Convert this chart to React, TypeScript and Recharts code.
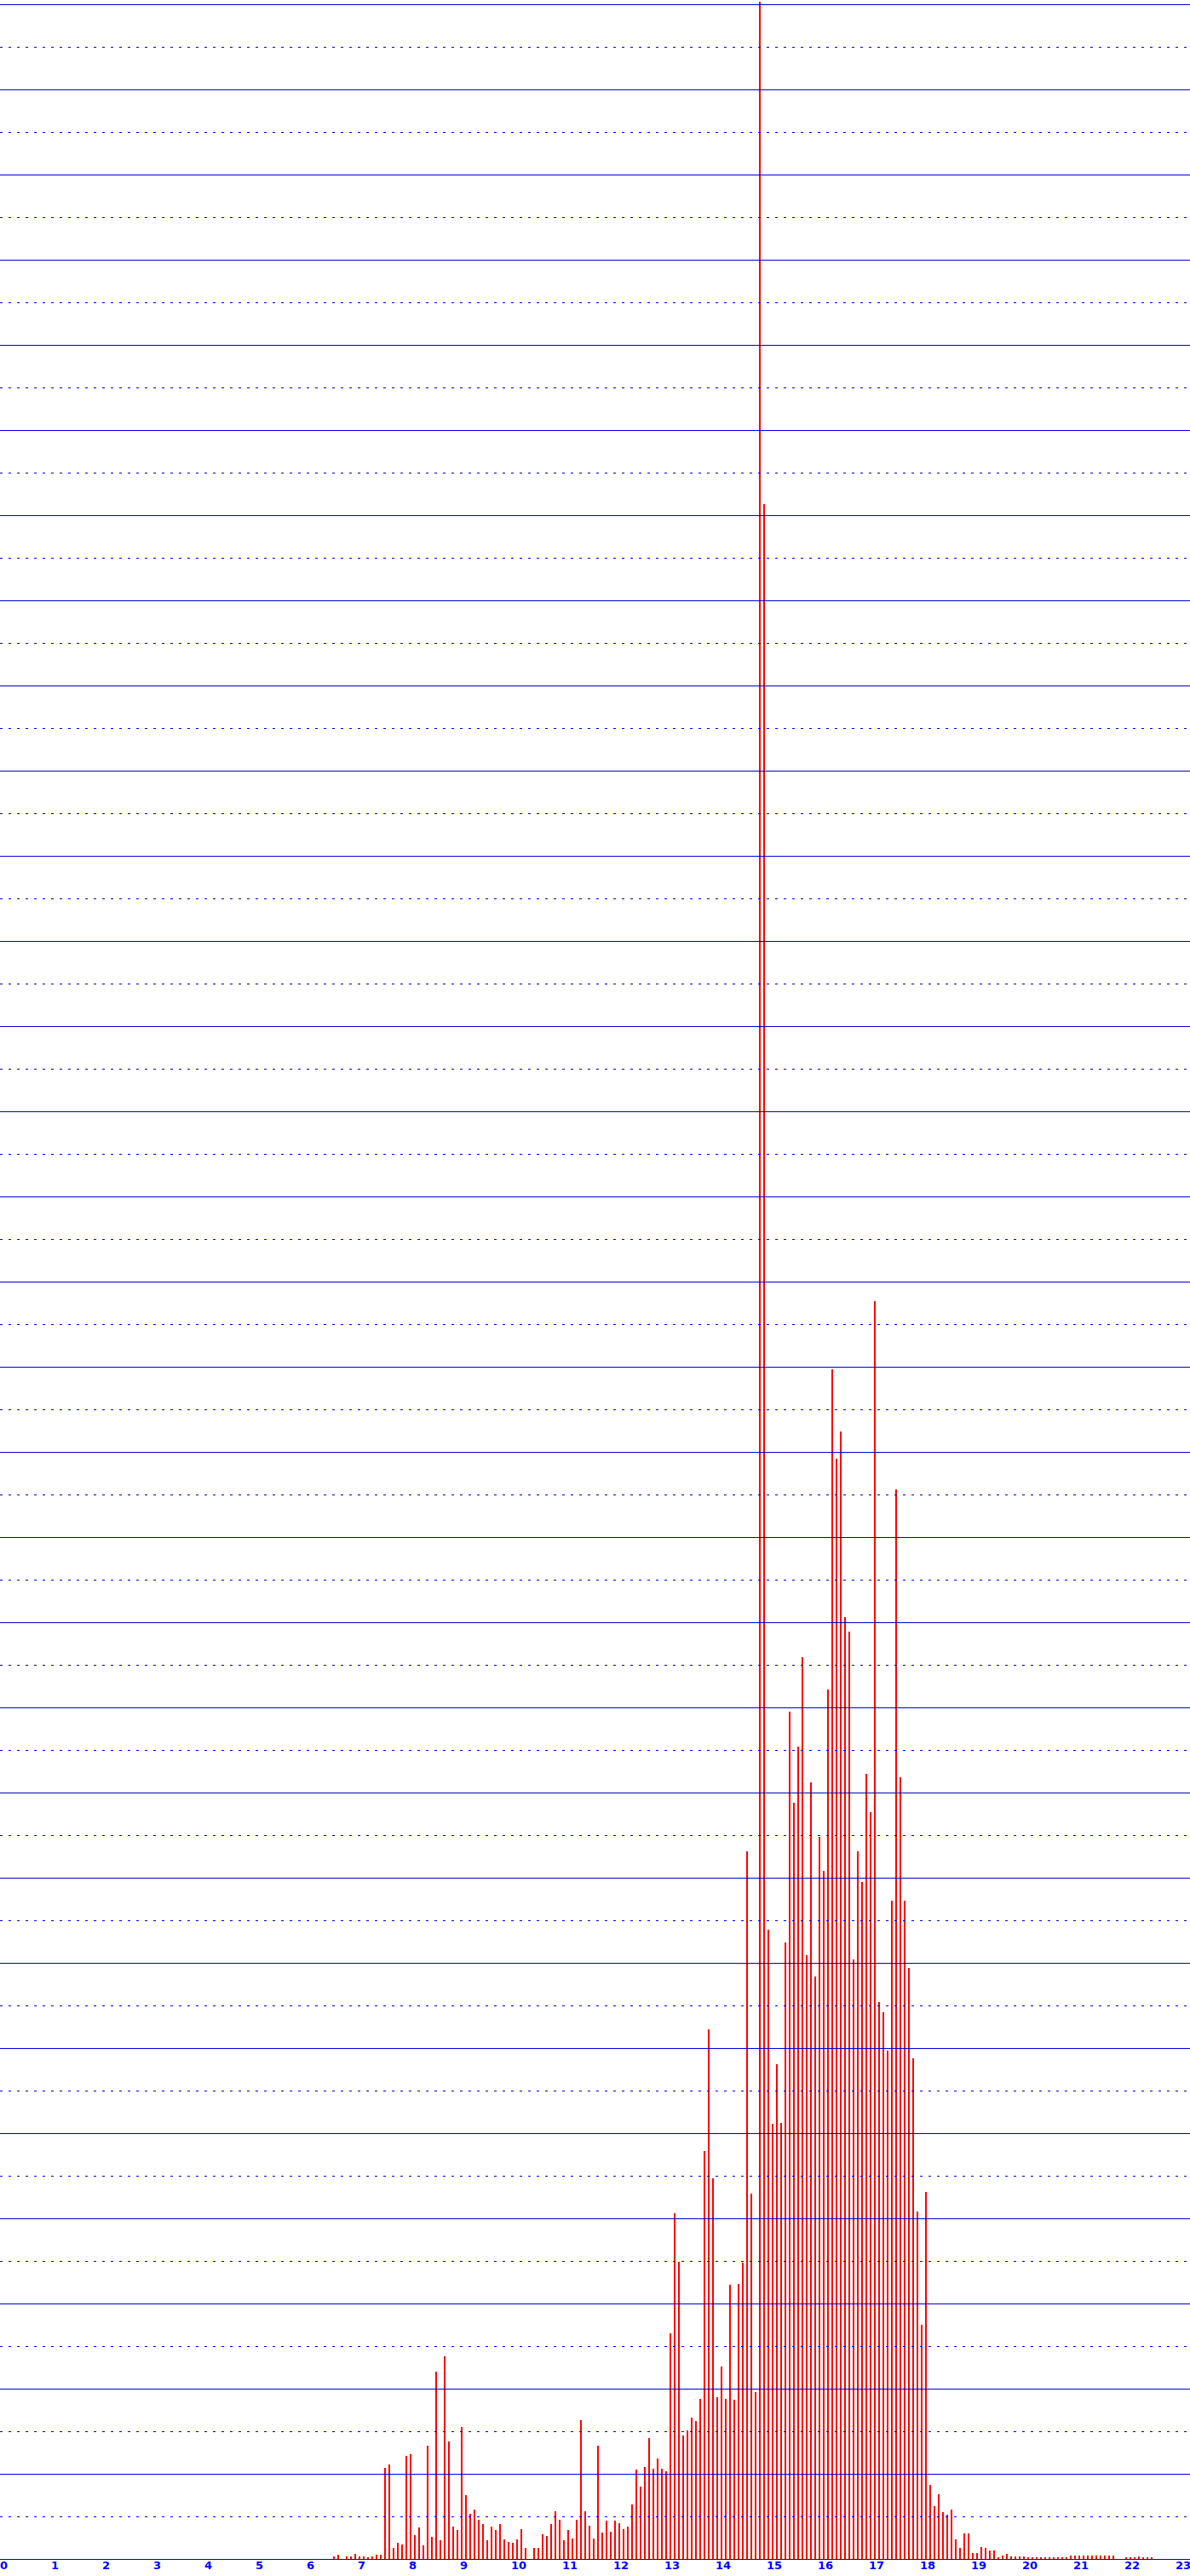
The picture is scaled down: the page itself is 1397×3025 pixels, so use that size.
import React from 'react';
import { BarChart, Bar, XAxis, YAxis, ReferenceLine } from 'recharts';

// hour labels on the x axis (one tick every 12 five-minute slots)
const hourLabels: string[] = [
  '0', '1', '2', '3', '4', '5', '6', '7', '8', '9', '10', '11',
  '12', '13', '14', '15', '16', '17', '18', '19', '20', '21', '22', '23',
];

// counts per 5-minute slot, one row per hour (12 slots per row)
const counts5min: number[] = [
  // 0h
  0, 0, 0, 0, 0, 0, 0, 0, 0, 0, 0, 0,
  // 1h
  0, 0, 0, 0, 0, 0, 0, 0, 0, 0, 0, 0,
  // 2h
  0, 0, 0, 0, 0, 0, 0, 0, 0, 0, 0, 0,
  // 3h
  0, 0, 0, 0, 0, 0, 0, 0, 0, 0, 0, 0,
  // 4h
  0, 0, 0, 0, 0, 0, 0, 0, 0, 0, 0, 0,
  // 5h
  0, 0, 0, 0, 0, 0, 0, 0, 0, 0, 0, 0,
  // 6h
  0, 0, 0, 0, 0, 0, 3, 5, 0, 3, 3, 6,
  // 7h
  3, 3, 2, 3, 5, 5, 107, 111, 13, 19, 17, 121,
  // 8h
  123, 28, 37, 16, 133, 26, 220, 22, 238, 138, 38, 34,
  // 9h
  155, 75, 53, 58, 46, 41, 22, 38, 34, 41, 23, 20,
  // 10h
  19, 23, 35, 13, 0, 13, 13, 29, 27, 41, 56, 46,
  // 11h
  22, 34, 24, 46, 163, 56, 39, 24, 133, 31, 45, 32,
  // 12h
  45, 42, 35, 38, 64, 105, 85, 108, 142, 106, 118, 106,
  // 13h
  103, 265, 406, 349, 145, 151, 166, 162, 188, 479, 622, 447,
  // 14h
  190, 226, 188, 322, 187, 323, 348, 831, 429, 196, 3003, 2413,
  // 15h
  739, 511, 581, 512, 724, 995, 888, 954, 1059, 709, 912, 684,
  // 16h
  848, 808, 1021, 1397, 1292, 1324, 1106, 1089, 704, 831, 795, 922,
  // 17h
  877, 1477, 654, 642, 597, 773, 1256, 918, 773, 694, 588, 408,
  // 18h
  275, 431, 87, 62, 76, 55, 52, 58, 23, 13, 30, 30,
  // 19h
  7, 7, 14, 13, 10, 10, 2, 4, 6, 3, 3, 3,
  // 20h
  3, 2, 2, 2, 2, 2, 2, 2, 2, 2, 2, 4,
  // 21h
  4, 4, 4, 4, 4, 4, 4, 4, 4, 4, 0, 0,
  // 22h
  2, 2, 2, 3, 2, 2, 2, 0, 0, 0, 0, 0,
  // 23h (first 20 minutes visible)
  0, 0, 0, 0,
];

// horizontal guide levels
const solidLevels: number[] = [
  0, 100, 200, 300, 400, 500, 600, 700, 800, 900, 1000,
  1100, 1200, 1300, 1400, 1500, 1600, 1700, 1800, 1900, 2000,
  2100, 2200, 2300, 2400, 2500, 2600, 2700, 2800, 2900, 3000,
];
const dottedLevels: number[] = [
  50, 150, 250, 350, 450, 550, 650, 750, 850, 950,
  1050, 1150, 1250, 1350, 1450, 1550, 1650, 1750, 1850, 1950,
  2050, 2150, 2250, 2350, 2450, 2550, 2650, 2750, 2850, 2950,
];

const yMax = 3005;
const LINE_BLUE = '#0000cc';
const TEXT_BLUE = '#0000ff';

const data = counts5min.map((count, slot) => ({ slot, count }));

const HourTick = (props: any) => {
  const { x, y, payload } = props;
  const label = hourLabels[Math.round(payload.value / 12)];
  return (
    <text
      x={x - 1.5}
      y={y + 12}
      textAnchor="start"
      fill={TEXT_BLUE}
      fontFamily="'DejaVu Sans', sans-serif"
      fontWeight="bold"
      fontSize={13}
    >
      {label}
    </text>
  );
};

const SolidLine = (p: any) => (
  <line
    x1={p.x1}
    x2={p.x2}
    y1={p.y1 + 0.5}
    y2={p.y2 + 0.5}
    stroke={LINE_BLUE}
    strokeWidth={1}
  />
);

const DottedLine = (p: any) => (
  <line
    x1={p.x1}
    x2={p.x2}
    y1={p.y1 + 0.5}
    y2={p.y2 + 0.5}
    stroke={LINE_BLUE}
    strokeWidth={1}
    strokeDasharray="3 7"
    strokeDashoffset={-1}
  />
);

export default function App() {
  return (
    <div
      style={{
        position: 'absolute',
        left: 0,
        top: 0,
        width: 1397,
        height: 3025,
        overflow: 'hidden',
        background: '#ffffff',
      }}
    >
      <div style={{ position: 'absolute', left: -1, top: 0 }}>
        <BarChart
          width={1400}
          height={3025}
          data={data}
          margin={{ top: 0, right: 0, bottom: 0, left: 0 }}
          barCategoryGap={0}
        >
          <XAxis
            dataKey="slot"
            type="category"
            interval={11}
            height={20}
            axisLine={false}
            tickLine={false}
            tickSize={0}
            tickMargin={0}
            tick={<HourTick />}
          />
          <YAxis hide domain={[0, yMax]} allowDataOverflow width={0} />
          {dottedLevels.map((v) => (
            <ReferenceLine key={'d' + v} y={v} shape={<DottedLine />} />
          ))}
          {solidLevels.map((v) => (
            <ReferenceLine key={'s' + v} y={v} shape={<SolidLine />} />
          ))}
          <Bar dataKey="count" fill="#ff0000" barSize={2} isAnimationActive={false} />
        </BarChart>
      </div>
    </div>
  );
}
